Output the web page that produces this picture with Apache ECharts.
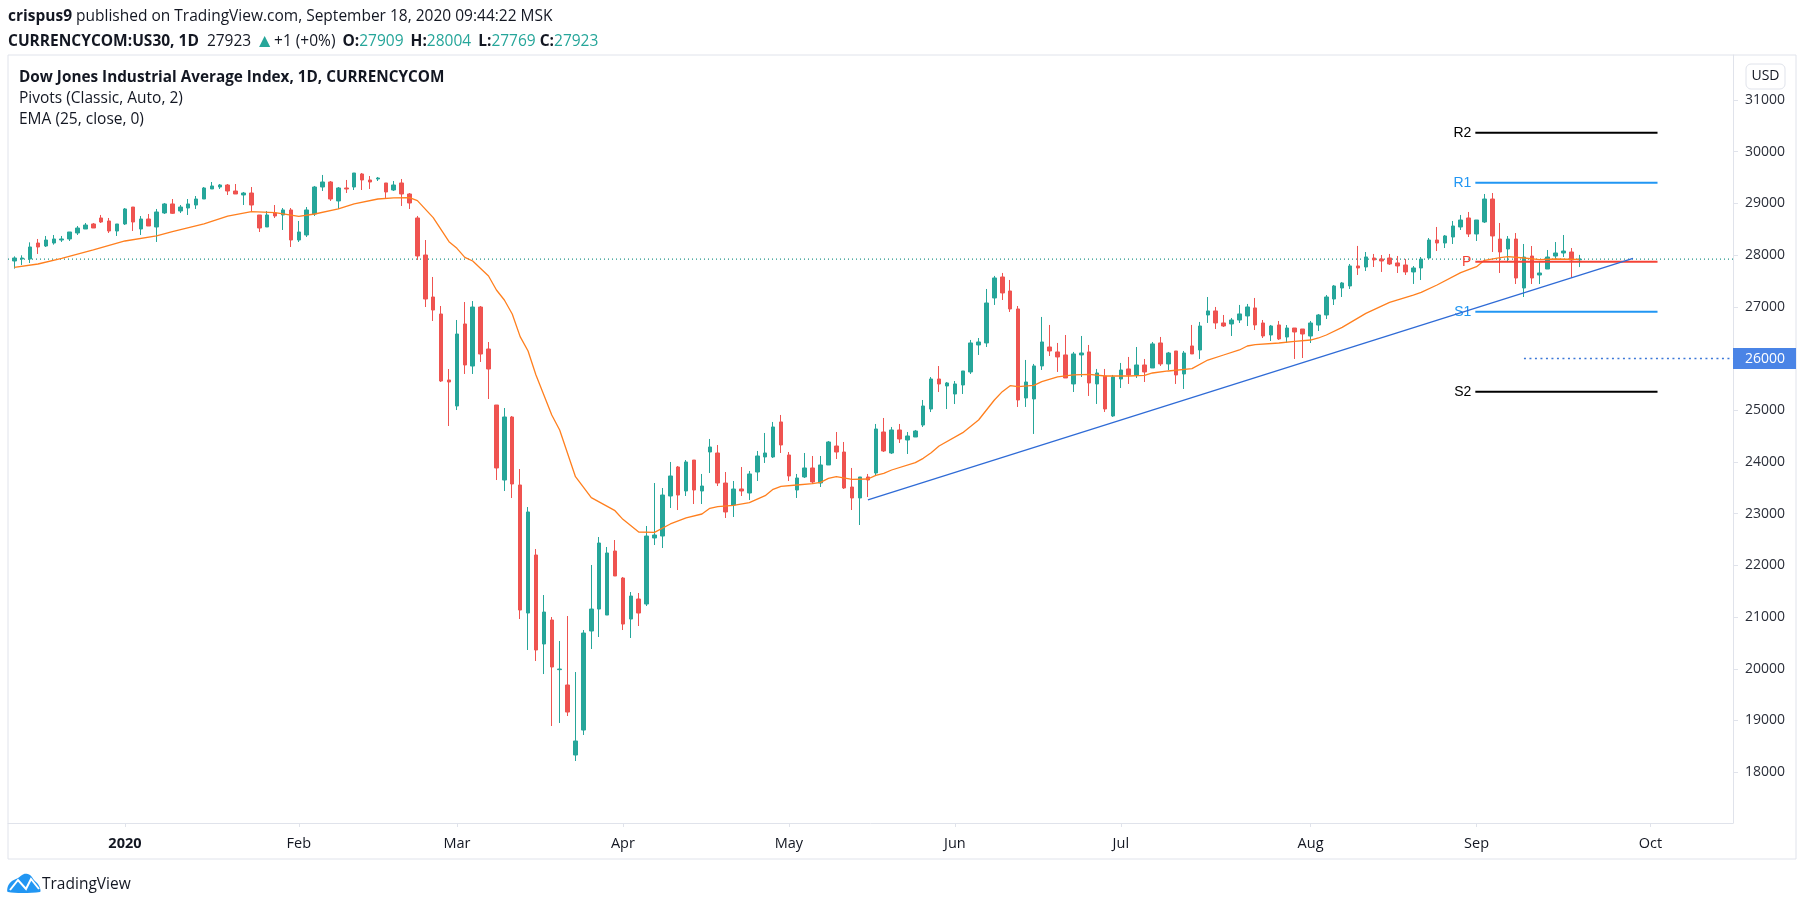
<!DOCTYPE html>
<html>
<head>
<meta charset="utf-8">
<title>US30 1D</title>
<script src="https://cdn.jsdelivr.net/npm/echarts@6/dist/echarts.min.js"></script>
<style>
  html, body { margin: 0; background: #fff; }
  #main { width: 1805px; height: 906px; }
</style>
</head>
<body>
<div id="main"></div>
<script>
// daily bars, one value per bar from left to right
const opens = [
  27886, 27925, 27925, 28234, 28176, 28234, 28292, 28312, 28428, 28505, 28602, 28718, 28660, 28466, 28602, 28930, 28505, 28698, 28544, 28815,
  28989, 28853, 28911, 28969, 29085, 29279, 29317, 29356, 29240, 29163, 29201, 28776, 28544, 28815, 28776, 28873, 28292, 28389, 28795, 29317,
  29414, 29047, 29298, 29317, 29569, 29453, 29472, 29395, 29259, 29395, 29182, 28718, 28002, 27190, 26861, 25585, 25082, 26668, 25855, 26996,
  26184, 25101, 23650, 24869, 23554, 21078, 22200, 20479, 20943, 19983, 19686, 18332, 18815, 20730, 21155, 21039, 22277, 21755, 20962, 21349,
  21252, 22529, 22567, 23341, 23902, 23438, 24037, 23438, 24192, 24173, 23592, 23167, 23477, 23399, 23805, 24096, 24096, 24773, 24134, 23457,
  23709, 23883, 23593, 23941, 24308, 24192, 23515, 23303, 23709, 23786, 24579, 24173, 24618, 24424, 24482, 24714, 25023, 25604, 25469, 25314,
  25488, 25740, 26262, 26301, 27171, 27577, 27306, 26958, 25237, 25218, 25856, 26223, 26127, 26069, 25508, 26069, 26127, 25508, 25662, 24889,
  25604, 25798, 25682, 25875, 25817, 26301, 25895, 26146, 25701, 26243, 26165, 26842, 26920, 26688, 26668, 26745, 26823, 26978, 26687, 26455,
  26649, 26416, 26590, 26571, 26435, 26648, 26842, 27151, 27364, 27403, 27790, 27770, 27944, 27925, 27944, 27848, 27809, 27674, 27751, 27944,
  28292, 28234, 28350, 28544, 28718, 28408, 28640, 29085, 28311, 28118, 28311, 27364, 27982, 27615, 27731, 27982, 28041, 28060, 27909
];
const closes = [
  27944, 27944, 28157, 28157, 28292, 28312, 28312, 28447, 28524, 28582, 28524, 28640, 28466, 28602, 28892, 28640, 28698, 28563, 28834, 28989,
  28808, 28930, 28989, 29085, 29298, 29337, 29356, 29240, 29182, 29201, 28969, 28524, 28776, 28756, 28873, 28292, 28447, 28873, 29317, 29414,
  29085, 29298, 29279, 29588, 29453, 29414, 29491, 29221, 29356, 29182, 29008, 27983, 27151, 26938, 25565, 25546, 26474, 25875, 26996, 26087,
  25797, 23883, 24869, 23573, 21136, 23032, 20363, 21097, 20034, 19995, 19163, 18603, 20691, 21155, 22432, 22239, 21794, 20865, 21407, 21078,
  22567, 22587, 23360, 23728, 23360, 23999, 23457, 23534, 24289, 23592, 23032, 23476, 23438, 23767, 24115, 24173, 24676, 24328, 23728, 23689,
  23883, 23612, 23941, 24386, 24192, 23496, 23303, 23709, 23651, 24637, 24212, 24618, 24444, 24502, 24598, 25082, 25604, 25507, 25527, 25508,
  25759, 26301, 26320, 27074, 27558, 27268, 26958, 25198, 25546, 25856, 26320, 26146, 26030, 25624, 26088, 26107, 25527, 25720, 25024, 25643,
  25778, 25682, 25875, 25740, 26282, 25895, 26107, 25682, 26107, 26088, 26629, 26920, 26688, 26629, 26745, 26862, 26997, 26649, 26436, 26629,
  26378, 26590, 26513, 26474, 26687, 26842, 27190, 27403, 27461, 27790, 27751, 27964, 27906, 27886, 27828, 27790, 27674, 27751, 27924, 28292,
  28234, 28370, 28563, 28679, 28408, 28679, 29085, 28370, 28060, 28311, 27557, 27963, 27557, 27654, 27963, 28041, 28079, 27905, 27923
];
const lows = [
  27738, 27809, 27847, 28022, 28157, 28202, 28254, 28273, 28389, 28505, 28524, 28621, 28428, 28370, 28582, 28466, 28389, 28563, 28254, 28795,
  28795, 28814, 28776, 28892, 29085, 29279, 29279, 29163, 29182, 28969, 28834, 28447, 28544, 28718, 28486, 28157, 28254, 28350, 28756, 29240,
  29047, 28892, 29201, 29259, 29259, 29279, 29433, 29105, 29240, 28950, 28892, 27906, 26996, 26726, 25546, 24695, 25004, 25701, 25701, 25933,
  25217, 23650, 23438, 23302, 20962, 20363, 20150, 19898, 18893, 18951, 19086, 18216, 18719, 20382, 20614, 21039, 21794, 20749, 20595, 20827,
  21214, 22393, 22335, 23109, 23070, 23341, 23186, 23186, 23786, 23534, 22916, 22935, 23341, 23264, 23631, 23980, 24076, 24173, 23631, 23303,
  23689, 23573, 23515, 23941, 24057, 23477, 23070, 22780, 23322, 23747, 24192, 24154, 24366, 24154, 24482, 24676, 24965, 25352, 25023, 25120,
  25314, 25701, 26069, 26223, 27036, 27132, 26900, 25063, 25063, 24541, 25778, 26049, 25740, 25624, 25353, 25643, 25276, 25121, 24966, 24869,
  25430, 25508, 25624, 25546, 25817, 25856, 25778, 25508, 25411, 26088, 25991, 26688, 26571, 26610, 26436, 26687, 26629, 26552, 26397, 26339,
  26359, 26300, 25991, 26010, 26300, 26532, 26764, 27035, 27190, 27345, 27616, 27693, 27770, 27674, 27809, 27654, 27616, 27442, 27518, 27924,
  28079, 28137, 28215, 28486, 28350, 28273, 28621, 28060, 27654, 27886, 27441, 27190, 27441, 27441, 27731, 27905, 27963, 27557, 27769
];
const highs = [
  27976, 27996, 28247, 28312, 28370, 28389, 28370, 28447, 28563, 28621, 28621, 28776, 28718, 28602, 28911, 28930, 28756, 28795, 28892, 29008,
  29085, 28969, 29085, 29143, 29317, 29414, 29375, 29375, 29375, 29221, 29317, 28776, 28853, 28969, 28911, 28911, 28660, 28930, 29337, 29550,
  29433, 29317, 29453, 29588, 29588, 29530, 29511, 29395, 29433, 29472, 29201, 28757, 28292, 27577, 27016, 25797, 26745, 27093, 27112, 27016,
  26319, 25101, 25043, 24888, 23863, 23128, 22316, 21426, 21001, 20537, 21020, 19937, 20749, 22007, 22548, 22355, 22490, 21775, 21484, 21465,
  22761, 23592, 23496, 23999, 23921, 24037, 24037, 23767, 24444, 24327, 23805, 23631, 23902, 23825, 24212, 24560, 24773, 24908, 24192, 23767,
  24173, 24115, 24115, 24405, 24579, 24386, 23883, 23709, 23767, 24734, 24850, 24676, 24734, 24579, 24618, 25198, 25642, 25855, 25546, 25565,
  25759, 26359, 26397, 27345, 27597, 27655, 27519, 27016, 25972, 25895, 26804, 26649, 26301, 26455, 26127, 26436, 26262, 25798, 25798, 25682,
  25914, 26030, 26223, 25991, 26320, 26417, 26127, 26146, 26146, 26649, 26707, 27190, 26997, 26842, 26784, 27036, 27055, 27171, 26745, 26649,
  26726, 26648, 26590, 26571, 26726, 26861, 27228, 27422, 27480, 27828, 28177, 28060, 28022, 28002, 28022, 27983, 27925, 27789, 27963, 28331,
  28544, 28389, 28660, 28776, 28834, 28679, 29182, 29201, 28621, 28369, 28427, 28215, 28176, 27867, 28099, 28253, 28389, 28137, 28004
];

// EMA turning points: bar number and price
const emaBars = [0, 3, 6, 10, 14, 18, 20, 24, 27, 30, 33, 36, 38, 41, 43, 46, 48, 50, 51, 53, 55, 56, 57, 58, 60, 61, 62, 63, 64, 65, 66, 67, 68, 69, 71, 73, 76, 77, 79, 81, 83, 85, 87, 88, 89, 91, 93, 95, 96, 97, 99, 101, 102, 103, 104, 106, 108, 109, 110, 111, 114, 115, 116, 117, 120, 122, 124, 125, 126, 127, 129, 130, 132, 134, 136, 138, 141, 143, 144, 146, 149, 151, 153, 155, 156, 157, 160, 162, 164, 165, 166, 168, 171, 174, 177, 178, 180, 183, 185, 186, 188, 189, 191, 193, 195, 198];
const emaPrices = [27764, 27828, 27938, 28099, 28273, 28370, 28453, 28602, 28756, 28840, 28821, 28750, 28795, 28892, 28989, 29085, 29105, 29111, 29053, 28724, 28260, 28131, 27957, 27886, 27596, 27325, 27132, 26861, 26423, 26145, 25681, 25294, 24908, 24618, 23715, 23309, 23057, 22890, 22645, 22638, 22800, 22916, 22993, 23103, 23135, 23161, 23212, 23348, 23470, 23528, 23554, 23580, 23606, 23683, 23715, 23664, 23670, 23741, 23780, 23844, 23986, 24070, 24179, 24309, 24566, 24811, 25198, 25359, 25475, 25456, 25482, 25553, 25643, 25682, 25695, 25662, 25662, 25675, 25720, 25759, 25804, 25971, 26068, 26165, 26242, 26268, 26300, 26332, 26358, 26397, 26455, 26603, 26874, 27087, 27228, 27280, 27422, 27660, 27776, 27899, 27950, 27970, 27944, 27912, 27925, 27918];

// trend line, ends as [bar, price]
const trendStart = [108, 23264];
const trendEnd = [204.8, 27938];

// pivots
const pivotNames = ["R2", "R1", "P", "S1", "S2"];
const pivotPrices = [30368, 29401, 27873, 26906, 25359];
const pivotColors = ["#000000", "#2196f3", "#f44336", "#2196f3", "#000000"];
const pivotFrom = 184.85;
const pivotTo = 207.9;

const lastPrice = 27923;
const rayPrice = 26000;
const rayFrom = 191;

// axis ticks
const monthBars = [14, 36, 56, 77, 98, 119, 140, 164, 185, 207];
const monthLabels = ["2020", "Feb", "Mar", "Apr", "May", "Jun", "Jul", "Aug", "Sep", "Oct"];
const priceTicks = [18000, 19000, 20000, 21000, 22000, 23000, 24000, 25000, 26000, 27000, 28000, 29000, 30000, 31000];

const UP = "#26a69a";
const DOWN = "#ef5350";
const FONT = '"Open Sans", "Noto Sans", sans-serif';
const INK = "#131722";
const EDGE = "#e0e3eb";
const SIZE = 15.5;

// the plot runs from x=8 to x=1733, bars are 7.904px apart, first bar at 14.3
const xMin = -0.797;
const xMax = 217.45;

const candles = opens.map((o, i) => [i, o, closes[i], lows[i], highs[i]]);
const ema = emaBars.map((b, i) => [b, emaPrices[i]]);

const pivotSeries = pivotNames.map((name, i) => ({
  type: "line",
  name: name,
  silent: true,
  symbol: "circle",
  symbolSize: 0,
  showSymbol: true,
  showAllSymbol: true,
  z: 5,
  lineStyle: { color: pivotColors[i], width: 2 },
  itemStyle: { color: pivotColors[i] },
  data: [
    {
      value: [pivotFrom, pivotPrices[i]],
      label: {
        show: true,
        formatter: name,
        position: "left",
        distance: 4,
        color: pivotColors[i],
        fontFamily: '"Liberation Sans", Arial, sans-serif',
        fontSize: 14
      }
    },
    [pivotTo, pivotPrices[i]]
  ]
}));

function titleLine(left, top, text, weight, size) {
  const s = size || SIZE;
  return {
    left: left,
    top: top,
    padding: 0,
    text: text,
    textStyle: {
      color: INK, fontFamily: FONT, fontSize: s, fontWeight: weight,
      rich: {
        b: { fontWeight: "bold", fontFamily: FONT, fontSize: s, color: INK },
        // same bold, a little space ahead of it
        h: { fontWeight: "bold", fontFamily: FONT, fontSize: s, color: INK, padding: [0, 0, 0, 3] },
        g: { fontFamily: FONT, fontSize: s, color: UP },
        t: { fontFamily: FONT, fontSize: 19, color: UP },
        v: { fontFamily: FONT, fontSize: s, color: INK, padding: [0, 0, 0, 8] }
      }
    }
  };
}

const myChart = echarts.init(document.getElementById("main"));

const option = {
  backgroundColor: "#ffffff",
  animation: false,
  title: [
    titleLine(8, 9, "{b|crispus9} published on TradingView.com, September 18, 2020 09:44:22 MSK", "normal"),
    titleLine(8, 32, "{b|CURRENCYCOM:US30, 1D}{v|27923} {t|▲}+1 (+0%) {h|O:}{g|27909} {h|H:}{g|28004} {h|L:}{g|27769} {b|C:}{g|27923}", "normal"),
    titleLine(19, 70, "Dow Jones Industrial Average Index, 1D, CURRENCYCOM", "bold", 15.3),
    titleLine(19, 91, "Pivots (Classic, Auto, 2)", "normal"),
    titleLine(19, 112, "EMA (25, close, 0)", "normal"),
    titleLine(42, 877, "TradingView", "normal")
  ],
  grid: { left: 8, right: 72, top: 55, bottom: 83, containLabel: false },
  xAxis: {
    type: "value",
    min: xMin,
    max: xMax,
    splitLine: { show: false },
    axisLine: { show: true, onZero: false, lineStyle: { color: EDGE } },
    axisTick: { show: true, length: 4, lineStyle: { color: EDGE }, customValues: monthBars },
    axisLabel: {
      margin: 13,
      color: INK,
      fontFamily: FONT,
      fontSize: 14.5,
      customValues: monthBars,
      formatter: function(v) {
        const name = monthLabels[monthBars.indexOf(v)];
        return name === "2020" ? "{y|" + name + "}" : name;
      },
      rich: { y: { fontWeight: "bold", fontFamily: FONT, fontSize: 14.5, color: INK } }
    }
  },
  yAxis: {
    type: "value",
    position: "right",
    min: 17017,
    max: 31870,
    splitLine: { show: false },
    axisLine: { show: true, onZero: false, lineStyle: { color: EDGE } },
    axisTick: { show: true, length: 5, lineStyle: { color: EDGE }, customValues: priceTicks },
    axisLabel: {
      margin: 12,
      padding: [2, 0, 0, 0],
      color: "#2a2e39",
      fontFamily: FONT,
      fontSize: 14,
      // 26000 is carried by the highlighted label instead
      customValues: priceTicks.filter(p => p !== rayPrice),
      formatter: function(v) {
        return String(v);
      }
    }
  },
  graphic: [
    // outer frame
    {
      type: "rect", z: -1, silent: true,
      shape: { x: 8, y: 55, width: 1788, height: 804 },
      style: { fill: null, stroke: EDGE, lineWidth: 1 }
    },
    // currency button
    {
      type: "rect", silent: true,
      shape: { x: 1746, y: 64, width: 39, height: 25, r: 5 },
      style: { fill: "#fff", stroke: EDGE, lineWidth: 1 }
    },
    {
      type: "text", silent: true, x: 1765.5, y: 76.5,
      style: { text: "USD", fill: INK, font: '14px "Open Sans", sans-serif', align: "center", verticalAlign: "middle" }
    },
    // logo
    {
      type: "polygon", silent: true,
      shape: {
        smooth: 0.3,
        points: [[8, 892], [8, 886], [12, 881], [18, 878], [24, 874], [30, 875], [34, 880], [38, 884], [40, 888], [40, 892]]
      },
      style: { fill: "#2196f3" }
    },
    {
      type: "polyline", silent: true,
      shape: { points: [[10, 890], [18, 880], [26, 889], [31, 879], [39, 889]] },
      style: { fill: null, stroke: "#fff", lineWidth: 2 }
    }
  ],
  series: [
    {
      // last price line
      type: "line",
      silent: true,
      symbol: "none",
      z: 1,
      lineStyle: { color: "#1f9488", width: 1.2, type: [1, 3] },
      data: [[xMin, lastPrice], [xMax, lastPrice]]
    },
    {
      type: "candlestick",
      silent: true,
      barWidth: 4,
      z: 3,
      itemStyle: { color: UP, color0: DOWN, borderColor: UP, borderColor0: DOWN, borderWidth: 1 },
      data: candles
    },
    {
      type: "line",
      silent: true,
      symbol: "none",
      z: 4,
      lineStyle: { color: "#ff7f1e", width: 1.3 },
      data: ema
    },
    {
      type: "line",
      silent: true,
      symbol: "none",
      z: 6,
      lineStyle: { color: "#2f6bd6", width: 1.3 },
      data: [trendStart, trendEnd]
    },
    {
      type: "line",
      silent: true,
      symbol: "none",
      z: 6,
      lineStyle: { color: "#3c78d8", width: 1.5, type: [2, 3.5] },
      data: [[rayFrom, rayPrice], [xMax, rayPrice]]
    },
    {
      // highlighted price on the axis
      type: "scatter",
      silent: true,
      clip: false,
      symbolSize: 0,
      z: 10,
      itemStyle: { opacity: 1 },
      label: {
        show: true,
        position: "right",
        distance: 0,
        formatter: String(rayPrice),
        color: "#ffffff",
        backgroundColor: "#4a84e6",
        fontFamily: FONT,
        fontSize: 14,
        padding: [4, 11, 3, 12]
      },
      data: [[xMax, rayPrice]]
    }
  ].concat(pivotSeries)
};

myChart.setOption(option);
</script>
</body>
</html>
